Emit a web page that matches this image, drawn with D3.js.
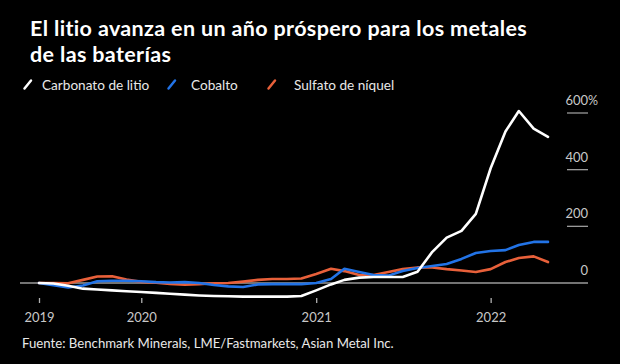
<!DOCTYPE html>
<html>
<head>
<meta charset="utf-8">
<script src="https://cdn.jsdelivr.net/npm/d3@7"></script>
<style>
  html, body { margin: 0; padding: 0; background: #000; }
  svg { display: block; }
  text { font-family: Lato, "Noto Sans", sans-serif; }
</style>
</head>
<body>
<div id="chart"></div>
<script>
// monthly observations, % change since start
const months = [
  "2019-06", "2019-07", "2019-08", "2019-09", "2019-10", "2019-11", "2019-12",
  "2020-01", "2020-02", "2020-03", "2020-04", "2020-05", "2020-06", "2020-07",
  "2020-08", "2020-09", "2020-10", "2020-11", "2020-12", "2021-01", "2021-02",
  "2021-03", "2021-04", "2021-05", "2021-06", "2021-07", "2021-08", "2021-09",
  "2021-10", "2021-11", "2021-12", "2022-01", "2022-02", "2022-03", "2022-04",
  "2022-05"
];

const lithium = [0, -2, -10, -20, -23, -26, -29, -32, -35, -38, -41, -44, -46, -47,
  -48, -48, -48, -48, -46, -26, -5, 11, 19, 21, 21, 21, 40, 110, 160, 184, 244,
  405, 535, 607, 545, 516];

const cobalt = [0, -8, -16, -9, 6, 8, 8, 6, 3, 2, 3, 0, -7, -12, -14, -5, -4, -4,
  -4, 0, 14, 50, 39, 28, 26, 42, 53, 60, 67, 85, 106, 113, 116, 134, 145, 145];

const nickel = [0, 0, -1, 11, 23, 24, 12, 4, 1, -3, -6, -4, -1, 0, 5, 11, 14, 14,
  16, 32, 50, 42, 28, 28, 39, 49, 55, 55, 49, 44, 39, 49, 74, 88, 94, 74];

const yTicks = [0, 200, 400, 600];
const xTicks = ["2019-06", "2020-01", "2021-01", "2022-01"];

const series = [
  { name: "Sulfato de níquel", values: nickel, color: "#e8603a" },
  { name: "Cobalto", values: cobalt, color: "#2273e6" },
  { name: "Carbonato de litio", values: lithium, color: "#ffffff" }
];

const width = 620;
const height = 364;
const parseMonth = d3.timeParse("%Y-%m");
const dates = months.map(parseMonth);

const svg = d3.select("#chart")
  .append("svg")
  .attr("width", width)
  .attr("height", height);

svg.append("rect")
  .attr("width", width)
  .attr("height", height)
  .attr("fill", "#000");

// title
const titleLines = ["El litio avanza en un año próspero para los metales", "de las baterías"];

svg.selectAll(".title")
  .data(titleLines)
  .enter()
  .append("text")
  .attr("class", "title")
  .attr("x", 30)
  .attr("y", (d, i) => 35.5 + i * 26)
  .attr("fill", "#fff")
  .style("font-size", "21.5px")
  .style("font-weight", "bold")
  .style("letter-spacing", "0.35px")
  .text(d => d);

// legend
const legendItems = [
  { name: "Carbonato de litio", color: "#ffffff", x: 24 },
  { name: "Cobalto", color: "#2273e6", x: 168 },
  { name: "Sulfato de níquel", color: "#e8603a", x: 268 }
];

const legend = svg.append("g")
  .selectAll("g")
  .data(legendItems)
  .enter()
  .append("g")
  .attr("transform", d => "translate(" + d.x + ",0)");

legend.append("line")
  .attr("x1", 0.5)
  .attr("y1", 88.5)
  .attr("x2", 7)
  .attr("y2", 80.5)
  .attr("stroke", d => d.color)
  .attr("stroke-width", 2.5)
  .attr("stroke-linecap", "round");

legend.append("text")
  .attr("x", (d, i) => i === 0 ? 18 : i === 1 ? 23 : 26)
  .attr("y", 90)
  .attr("fill", "#e8e8e8")
  .style("font-size", "13.6px")
  .text(d => d.name);

// scales
const x = d3.scaleTime()
  .domain([dates[0], dates[dates.length - 1]])
  .range([39, 548]);

const y = d3.scaleLinear()
  .domain([0, 600])
  .range([283, 113]);

// y grid + labels on the right
const yAxis = svg.append("g");

yAxis.selectAll("line")
  .data(yTicks)
  .enter()
  .append("line")
  .attr("x1", d => d === 0 ? 20 : 567)
  .attr("x2", 588)
  .attr("y1", d => y(d))
  .attr("y2", d => y(d))
  .attr("stroke", "#9a9a9a")
  .attr("stroke-width", 1.3);

yAxis.selectAll("text")
  .data(yTicks)
  .enter()
  .append("text")
  .attr("x", 588)
  .attr("y", d => y(d) - 8)
  .attr("text-anchor", "end")
  .attr("fill", "#c8c8c8")
  .style("font-size", "13px")
  .text(d => d);

yAxis.append("text")
  .attr("x", 588)
  .attr("y", y(600) - 8)
  .attr("fill", "#c8c8c8")
  .style("font-size", "12.5px")
  .text("%");

// x axis
const xAxis = svg.append("g")
  .attr("transform", "translate(0,298)")
  .call(d3.axisBottom(x)
    .tickValues(xTicks.map(parseMonth))
    .tickFormat(d3.timeFormat("%Y"))
    .tickSize(5)
    .tickPadding(10));

xAxis.select(".domain").remove();
xAxis.selectAll(".tick line")
  .attr("stroke", "#b0b0b0")
  .attr("stroke-width", 1.3);
xAxis.selectAll(".tick text")
  .attr("fill", "#c8c8c8")
  .style("font-size", "13px")
  .style("font-family", "Lato, sans-serif");

// lines
const line = d3.line()
  .x((d, i) => x(dates[i]))
  .y(d => y(d));

svg.append("g")
  .selectAll("path")
  .data(series)
  .enter()
  .append("path")
  .attr("d", d => line(d.values))
  .attr("fill", "none")
  .attr("stroke", d => d.color)
  .attr("stroke-width", 2.6)
  .attr("stroke-linejoin", "round")
  .attr("stroke-linecap", "round");

// source
svg.append("text")
  .attr("x", 22)
  .attr("y", 348)
  .attr("fill", "#e8e8e8")
  .style("font-size", "13.2px")
  .text("Fuente: Benchmark Minerals, LME/Fastmarkets, Asian Metal Inc.");
</script>
</body>
</html>
